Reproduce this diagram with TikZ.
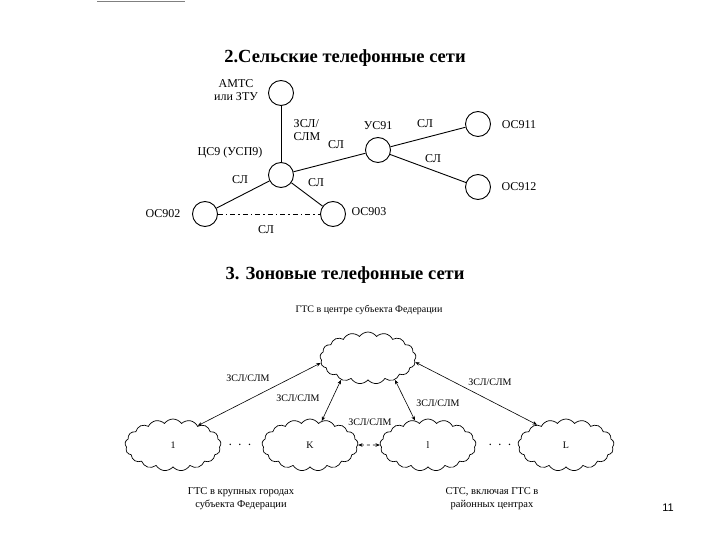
\documentclass[tikz,border=0pt]{standalone}
\usepackage{fontspec}
\setmainfont{Liberation Serif}
\newfontfamily\pagefont{Liberation Sans}
\usetikzlibrary{shapes.symbols,arrows.meta}
\begin{document}
\begin{tikzpicture}[x=1pt,y=-1pt,
  stn/.style={circle,draw,line width=0.9pt,minimum size=25pt,inner sep=0pt},
  lbl/.style={font=\fontsize{12}{13}\selectfont,inner sep=0pt},
  ttl/.style={font=\bfseries\fontsize{18.5}{20}\selectfont,inner sep=0pt},
  sm/.style={font=\fontsize{10}{12}\selectfont,inner sep=0pt,align=center},
  bt/.style={font=\fontsize{10.5}{13}\selectfont,inner sep=0pt,align=center},
  cl/.style={cloud,cloud puffs=17,cloud puff arc=110,aspect=1.9,draw,line width=0.7pt,minimum width=96pt,minimum height=52pt,inner sep=0pt,font=\fontsize{10}{11}\selectfont},
  lnk/.style={line width=0.9pt},
  arr/.style={line width=0.6pt,{Stealth[length=4.5pt,width=3.5pt]}-{Stealth[length=4.5pt,width=3.5pt]}},
  dots/.style={font=\fontsize{14}{14}\selectfont,inner sep=0pt}
]
\useasboundingbox (0,0) rectangle (720,540);
% top scan line
\draw[gray,line width=0.6pt] (97,1) -- (185,1);

% Section 2
\node[ttl] (t2) at (345,58) {2.Сельские телефонные сети};
\node[stn] (amts) at (281,93) {};
\node[lbl,align=center] (amtsl) at (236,90) {АМТС\\или ЗТУ};
\node[stn] (cs9) at (281,175) {};
\node[lbl] (cs9l) at (230,153) {ЦС9 (УСП9)};
\node[stn] (us91) at (378,150) {};
\node[lbl] (us91l) at (378,126) {УС91};
\node[stn] (os911) at (478,124) {};
\node[lbl] (os911l) at (519,125) {ОС911};
\node[stn] (os912) at (478,187) {};
\node[lbl] (os912l) at (519,187) {ОС912};
\node[stn] (os902) at (205,214) {};
\node[lbl] (os902l) at (163,214) {ОС902};
\node[stn] (os903) at (333,214) {};
\node[lbl] (os903l) at (369,212) {ОС903};

\draw[lnk] (amts) -- (cs9);
\draw[lnk] (cs9) -- (us91);
\draw[lnk] (us91) -- (os911);
\draw[lnk] (us91) -- (os912);
\draw[lnk] (cs9) -- (os902);
\draw[lnk] (cs9) -- (os903);
\draw[line width=0.6pt,dash pattern=on 5pt off 3pt on 1.5pt off 3pt] (os902.east) -- (os903.west);

\node[lbl,align=left] (zsl) at (307,130) {ЗСЛ/\\СЛМ};
\node[lbl] (sl1) at (336,145) {СЛ};
\node[lbl] (sl2) at (425,124) {СЛ};
\node[lbl] (sl3) at (433,159) {СЛ};
\node[lbl] (sl4) at (240,180) {СЛ};
\node[lbl] (sl5) at (316,183) {СЛ};
\node[lbl] (sl6) at (266,230) {СЛ};

% Section 3
\node[ttl] (t3) at (345,275) {3. Зоновые телефонные сети};
\node[sm] (gtsc) at (369,310) {ГТС в центре субъекта Федерации};
\node[cl] (top) at (368,358) {};
\node[cl] (c1) at (173,445) {1};
\node[cl] (ck) at (310,445) {K};
\node[cl] (cl2) at (428,445) {l};
\node[cl] (cL) at (566,445) {L};

\draw[arr] (top.186) -- (c1.38);
\draw[arr] (top.219) -- (ck.64);
\draw[arr] (top.321) -- (cl2.118);
\draw[arr] (top.355) -- (cL.145);
\draw[arr,dashed] (ck.east) -- (cl2.west);

\node[sm] (a1) at (248,378) {ЗСЛ/СЛМ};
\node[sm] (a2) at (298,398) {ЗСЛ/СЛМ};
\node[sm] (a3) at (438,403) {ЗСЛ/СЛМ};
\node[sm] (a4) at (490,382) {ЗСЛ/СЛМ};
\node[sm] (a5) at (370,422) {ЗСЛ/СЛМ};

\node[dots] (d1) at (240,445) {$\cdot\,\cdot\,\cdot$};
\node[dots] (d2) at (500,445) {$\cdot\,\cdot\,\cdot$};

\node[bt] (b1) at (241,499) {ГТС в крупных городах\\субъекта Федерации};
\node[bt] (b2) at (492,499) {СТС, включая ГТС в\\районных центрах};

\node[font=\pagefont\fontsize{11}{12}\selectfont,inner sep=0pt] (pg) at (668,508) {11};
\end{tikzpicture}
\end{document}
